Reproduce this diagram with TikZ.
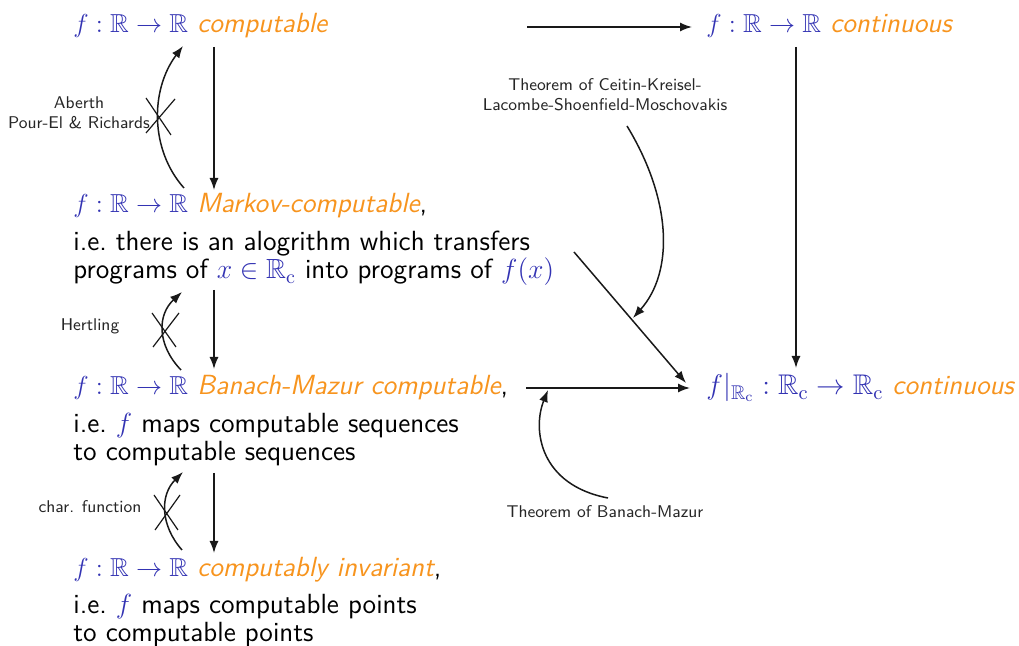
\RequirePackage{fix-cm}
\documentclass[tikz,border=0pt]{standalone}
\usepackage{amssymb}
\DeclareFontFamily{U}{msb}{\skewchar\font127 }
\DeclareFontShape{U}{msb}{m}{n}{<-6> msbm5 <6-8> msbm7 <8-> msbm10}{}
\usetikzlibrary{arrows.meta}
\definecolor{sblue}{RGB}{51,51,179}
\definecolor{sorange}{RGB}{247,148,30}
\newcommand{\hlb}[1]{\textcolor{sblue}{#1}}
\newcommand{\hlo}[1]{\textcolor{sorange}{\itshape #1}}
\newcommand{\fRR}{\textcolor{sblue}{\fontsize{13}{14}\selectfont$f:\mathbb{R}\to\mathbb{R}$}}
\begin{document}
\begin{tikzpicture}[x=0.5pt,y=-0.5pt,
  every node/.style={inner sep=0pt},
  mainline/.style={anchor=base west,font=\fontsize{13.85}{14}\selectfont\sffamily},
  expl/.style={anchor=north west,align=left,font=\fontsize{13.85}{14}\selectfont\sffamily},
  lbl/.style={align=center,font=\fontsize{8.5}{10}\selectfont\sffamily,text=black!85},
  arr/.style={draw=black!90,line width=0.75pt,-{Latex[length=6pt,width=4.5pt]}},
  crossline/.style={draw=black!90,line width=0.6pt},
]
\useasboundingbox (0,0) rectangle (1019,646);

% statements
\node[mainline] (A) at (73,33) {\fRR{} \hlo{computable}};
\node[mainline] (B) at (706,33) {\fRR{} \hlo{continuous}};
\node[mainline] (M) at (73,213) {\fRR{} \hlo{Markov-computable},};
\node[expl] (Mx) at (73,231) {i.e.\ there is an alogrithm which transfers\\programs of \hlb{$x\in\mathbb{R}_{\mathrm{c}}$} into programs of \hlb{$f(x)$}};
\node[mainline] (BM) at (73,395) {\fRR{} \hlo{Banach-Mazur computable},};
\node[expl] (BMx) at (73,413) {i.e.\ \hlb{$f$} maps computable sequences\\to computable sequences};
\node[mainline] (CI) at (73,577) {\fRR{} \hlo{computably invariant},};
\node[expl] (CIx) at (73,594) {i.e.\ \hlb{$f$} maps computable points\\to computable points};
\node[mainline] (D) at (706,395) {\hlb{\fontsize{14.2}{15}\selectfont$f|_{\mathbb{R}_{\mathrm{c}}}:\mathbb{R}_{\mathrm{c}}\to\mathbb{R}_{\mathrm{c}}$} \hlo{continuous}};

% labels
\node[lbl] (L1) at (79,113) {Aberth\\Pour-El \& Richards};
\node[lbl,anchor=base] (L2) at (90,331) {Hertling};
\node[lbl,anchor=base] (L3) at (90,513) {char. function};
\node[lbl] (L4) at (605,95) {Theorem of Ceitin-Kreisel-\\Lacombe-Shoenfield-Moschovakis};
\node[lbl,anchor=base] (L5) at (605,518) {Theorem of Banach-Mazur};

% connector end points
\coordinate (abS) at (527,27);   \coordinate (abE) at (692,27);
\coordinate (bdS) at (796,47);   \coordinate (bdE) at (796,368);
\coordinate (mdS) at (574,252);  \coordinate (mdE) at (686,383);
\coordinate (bmdS) at (526,388); \coordinate (bmdE) at (690,388);
\coordinate (t1S) at (627,126);  \coordinate (t1E) at (633,318);
\coordinate (t2S) at (608,498);  \coordinate (t2E) at (548,390);
\coordinate (v1S) at (214,47);   \coordinate (v1E) at (214,190);
\coordinate (v2S) at (214,290);  \coordinate (v2E) at (214,369);
\coordinate (v3S) at (214,473);  \coordinate (v3E) at (214,553);
\coordinate (c1S) at (184,188);  \coordinate (c1E) at (183,46);
\coordinate (c2S) at (181,370);  \coordinate (c2E) at (182,292);
\coordinate (c3S) at (182,550);  \coordinate (c3E) at (183,472);

% right part
\draw[arr] (abS) -- (abE);
\draw[arr] (bdS) -- (bdE);
\draw[arr] (mdS) -- (mdE);
\draw[arr] (bmdS) -- (bmdE);
\draw[arr] (t1S) .. controls (672,200) and (674,272) .. (t1E);
\draw[arr] (t2S) .. controls (540,485) and (532,430) .. (t2E);

% left implications
\draw[arr] (v1S) -- (v1E);
\draw[arr] (v2S) -- (v2E);
\draw[arr] (v3S) -- (v3E);

% negated converse implications
\draw[arr] (c1S) .. controls (150,150) and (150,90) .. (c1E);
\draw[crossline] (146,98) -- (171,135) (175,99) -- (146,133);
\draw[arr] (c2S) .. controls (157,345) and (157,315) .. (c2E);
\draw[crossline] (152,313) -- (176,347) (179,313) -- (153,347);
\draw[arr] (c3S) .. controls (160,525) and (160,495) .. (c3E);
\draw[crossline] (154,495) -- (178,530) (180,495) -- (155,530);
\end{tikzpicture}
\end{document}
